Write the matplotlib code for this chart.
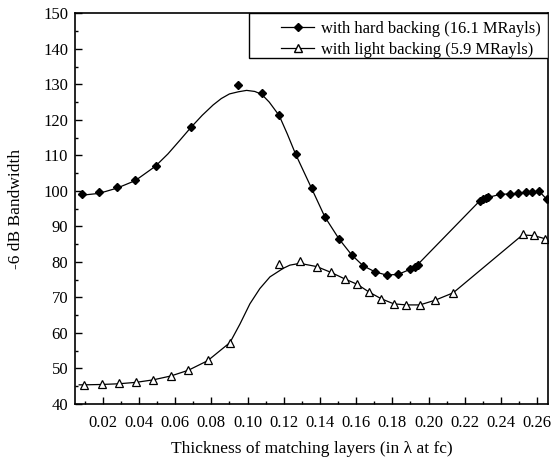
import numpy as np
import matplotlib
matplotlib.use("Agg")
import matplotlib.pyplot as plt
from matplotlib.lines import Line2D
from matplotlib.patches import Rectangle
from matplotlib.ticker import MultipleLocator, FormatStrFormatter

plt.rcParams['font.family'] = ['Liberation Serif', 'DejaVu Serif']

# measured points, hard backing (16.1 MRayls)
hard_x = [0.0087, 0.0179, 0.0277, 0.0378, 0.0494, 0.0686, 0.0949, 0.1078, 0.1175,
          0.1266, 0.1354, 0.1427, 0.1505, 0.1575, 0.1639, 0.1705, 0.1768, 0.1832,
          0.1897, 0.1924, 0.1943, 0.2283, 0.2302, 0.2316, 0.2331, 0.2394, 0.2449,
          0.2495, 0.2537, 0.2569, 0.2611, 0.2652]
hard_y = [99.0, 99.6, 101.0, 103.1, 107.1, 118.0, 129.7, 127.5, 121.3,
          110.3, 100.8, 92.7, 86.5, 82.0, 78.9, 77.3, 76.2, 76.6,
          77.9, 78.5, 79.1, 97.2, 97.7, 98.1, 98.2, 99.0, 99.2,
          99.3, 99.6, 99.7, 100.0, 97.7]

# measured points, light backing (5.9 MRayls)
light_x = [0.0097, 0.0194, 0.0290, 0.0384, 0.0479, 0.0577, 0.0673, 0.0780, 0.0903,
           0.1174, 0.1290, 0.1382, 0.1459, 0.1538, 0.1606, 0.1672, 0.1740, 0.1808,
           0.1878, 0.1952, 0.2035, 0.2136, 0.2519, 0.2583, 0.2646]
light_y = [45.4, 45.6, 45.8, 46.2, 46.8, 48.0, 49.5, 52.3, 57.2,
           79.4, 80.2, 78.7, 77.1, 75.2, 73.7, 71.5, 69.6, 68.2,
           67.9, 67.9, 69.2, 71.3, 88.0, 87.5, 86.4]

# smooth fitted curves
hard_fit_x = [0.007, 0.0087, 0.018, 0.028, 0.038, 0.049, 0.056, 0.0627, 0.0686, 0.075,
              0.081, 0.0855, 0.090, 0.0949, 0.0995, 0.104, 0.1078, 0.112, 0.1175, 0.122,
              0.1266, 0.1354, 0.1427, 0.1505, 0.1575, 0.1639, 0.1705, 0.1768, 0.1832,
              0.1902, 0.1939, 0.2283, 0.2331, 0.2394, 0.2495, 0.2569, 0.2611, 0.2652]
hard_fit_y = [98.9, 98.8, 99.3, 100.8, 102.9, 106.9, 110.4, 114.3, 117.8, 121.3,
              124.2, 126.0, 127.3, 127.9, 128.3, 128.0, 127.2, 125.0, 121.2, 116.0,
              110.3, 100.7, 92.7, 86.5, 82.0, 78.9, 77.2, 76.3, 76.5,
              78.0, 79.2, 97.2, 98.2, 99.0, 99.3, 99.6, 99.9, 97.7]

light_fit_x = [0.007, 0.0097, 0.0194, 0.029, 0.0384, 0.0479, 0.0577, 0.0673, 0.078, 0.0903,
               0.0958, 0.1013, 0.1068, 0.1124, 0.1197, 0.1234, 0.1289, 0.1382, 0.1459,
               0.1538, 0.1606, 0.1672, 0.1740, 0.1808, 0.1878, 0.1952, 0.2035, 0.2136,
               0.2519, 0.2583, 0.2646]
light_fit_y = [45.4, 45.4, 45.5, 45.7, 46.1, 46.8, 47.9, 49.5, 52.2, 57.3,
               62.5, 68.2, 72.5, 75.8, 78.2, 79.1, 79.6, 78.7, 77.1,
               75.2, 73.7, 71.5, 69.6, 68.2, 67.9, 67.9, 69.2, 71.3,
               87.6, 87.4, 86.5]

labels = ['with hard backing (16.1 MRayls)', 'with light backing (5.9 MRayls)']

fig = plt.figure(figsize=(5.52, 4.59), dpi=100)
ax = fig.add_axes([0.1359, 0.1198, 0.8569, 0.8512])

ax.plot(hard_fit_x, hard_fit_y, '-', color='black', lw=0.9)
ax.plot(hard_x, hard_y, 'D', color='black', ms=4.5, mec='black')
ax.plot(light_fit_x, light_fit_y, '-', color='black', lw=0.9)
ax.plot(light_x, light_y, '^', mfc='white', mec='black', mew=0.9, ms=6.2)

ax.set_xlim(0.0047, 0.266)
ax.set_ylim(40, 150)
ax.xaxis.set_major_locator(MultipleLocator(0.02))
ax.xaxis.set_minor_locator(MultipleLocator(0.01))
ax.xaxis.set_major_formatter(FormatStrFormatter('%.2f'))
ax.yaxis.set_major_locator(MultipleLocator(10))
ax.yaxis.set_minor_locator(MultipleLocator(5))
ax.tick_params(which='both', direction='in', labelsize=12, top=False, right=False)
ax.tick_params(which='major', length=5, width=1)
ax.tick_params(which='minor', length=2.5, width=1)
ax.tick_params(axis='x', pad=8)
ax.tick_params(axis='y', pad=5)
for s in ax.spines.values():
    s.set_linewidth(1.2)

ax.set_xlabel('Thickness of matching layers (in \u03bb at fc)', fontsize=12.5, labelpad=7)
ax.set_ylabel('-6 dB Bandwidth', fontsize=12.5, labelpad=14)

# legend box (wide frame, as in the original)
ax.add_patch(Rectangle((0.368, 0.885), 0.632, 0.115, transform=ax.transAxes,
                       fill=True, facecolor='white', edgecolor='black', lw=1.0, zorder=4))
handles = [Line2D([], [], color='black', lw=0.9, marker='D', ms=4, mfc='black'),
           Line2D([], [], color='black', lw=0.9, marker='^', ms=5.5, mfc='white', mec='black')]
leg = ax.legend(handles, labels, loc='upper right', fontsize=11.9, frameon=False,
                borderaxespad=0, handlelength=2.0, handletextpad=0.4,
                borderpad=0.45, labelspacing=0.3, bbox_to_anchor=(1.0, 1.0))
leg.set_zorder(5)

fig.savefig('out.png', dpi=100)
